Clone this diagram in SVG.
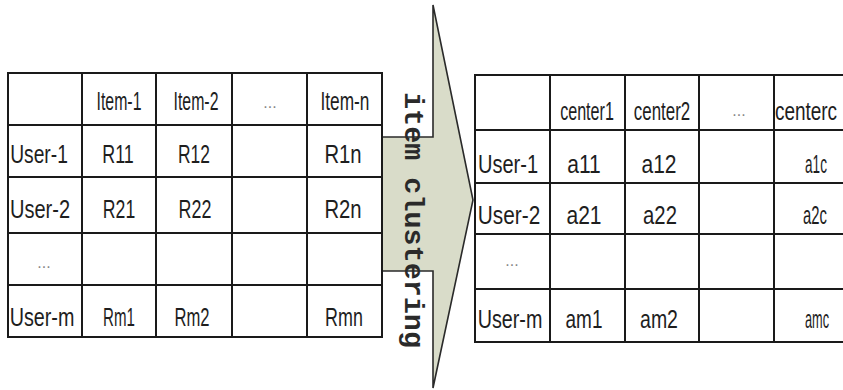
<svg xmlns="http://www.w3.org/2000/svg" width="843" height="390" viewBox="0 0 843 390">
<style>
.grid{fill:#fff;stroke:#1a1a1a;stroke-width:2}
.ln{stroke:#1a1a1a;stroke-width:2}
.t{font-family:"Liberation Sans",Arial,sans-serif;font-size:26px;fill:#1e1e1e;text-anchor:middle}
.d{font-family:"Liberation Sans",Arial,sans-serif;font-size:16px;fill:#888;text-anchor:middle}
.arr{fill:#d9dcc9;stroke:#2a2a2a;stroke-width:1.6;stroke-linejoin:miter}
.lbl{font-family:"Liberation Mono","Courier New",monospace;font-size:28px;font-weight:bold;fill:#2a2a2a}
</style>
<g id="connectors">
<g id="arrow-item-clustering">
<path class="arr" d="M382,137 L433,137 L433,5 L473,200 L433,388 L433,271 L382,271 Z"/>
<text class="lbl" transform="translate(405,92) rotate(90)" x="0" y="0" textLength="256" lengthAdjust="spacingAndGlyphs">item clustering</text>
</g>
</g>
<g id="rating-matrix">
<rect class="grid" x="8" y="73" width="374" height="264"/>
<path class="ln" d="M82,73V337M156,73V337M232,73V337M307,73V337M8,125H382M8,177H382M8,233H382M8,285H382"/>
<text class="t" transform="translate(119,110) scale(0.61,1)">Item-1</text>
<text class="t" transform="translate(196,110) scale(0.61,1)">Item-2</text>
<text class="d" x="270" y="108">...</text>
<text class="t" transform="translate(345,110) scale(0.665,1)">Item-n</text>
<text class="t" transform="translate(39,163) scale(0.74,1)">User-1</text>
<text class="t" transform="translate(118,163) scale(0.69,1)">R11</text>
<text class="t" transform="translate(194,163) scale(0.67,1)">R12</text>
<text class="t" transform="translate(343,163) scale(0.78,1)">R1n</text>
<text class="t" transform="translate(40,218) scale(0.77,1)">User-2</text>
<text class="t" transform="translate(119,218) scale(0.68,1)">R21</text>
<text class="t" transform="translate(195,218) scale(0.69,1)">R22</text>
<text class="t" transform="translate(343,218) scale(0.78,1)">R2n</text>
<text class="d" x="44" y="268">...</text>
<text class="t" transform="translate(42,326) scale(0.76,1)">User-m</text>
<text class="t" transform="translate(119,326) scale(0.58,1)">Rm1</text>
<text class="t" transform="translate(192,326) scale(0.64,1)">Rm2</text>
<text class="t" transform="translate(344,326) scale(0.69,1)">Rmn</text>
</g>
<g id="cluster-matrix">
<rect class="grid" x="475" y="75" width="372" height="267"/>
<path class="ln" d="M550,75V342M625,75V342M699,75V342M774,75V342M475,130H847M475,183H847M475,234H847M475,289H847"/>
<text class="t" transform="translate(587,120) scale(0.62,1)">center1</text>
<text class="t" transform="translate(662,120) scale(0.65,1)">center2</text>
<text class="d" x="739" y="116">...</text>
<text class="t" transform="translate(806,120) scale(0.73,1)">centerc</text>
<text class="t" transform="translate(508,173) scale(0.77,1)">User-1</text>
<text class="t" transform="translate(584,173) scale(0.81,1)">a11</text>
<text class="t" transform="translate(659,173) scale(0.81,1)">a12</text>
<text class="t" transform="translate(816,173) scale(0.52,1)">a1c</text>
<text class="t" transform="translate(509,224) scale(0.8,1)">User-2</text>
<text class="t" transform="translate(584,224) scale(0.81,1)">a21</text>
<text class="t" transform="translate(660,224) scale(0.78,1)">a22</text>
<text class="t" transform="translate(815,224) scale(0.57,1)">a2c</text>
<text class="d" x="512" y="266">...</text>
<text class="t" transform="translate(510,328) scale(0.76,1)">User-m</text>
<text class="t" transform="translate(584,328) scale(0.73,1)">am1</text>
<text class="t" transform="translate(659,328) scale(0.75,1)">am2</text>
<text class="t" transform="translate(817,328) scale(0.49,1)">amc</text>
</g>
</svg>
